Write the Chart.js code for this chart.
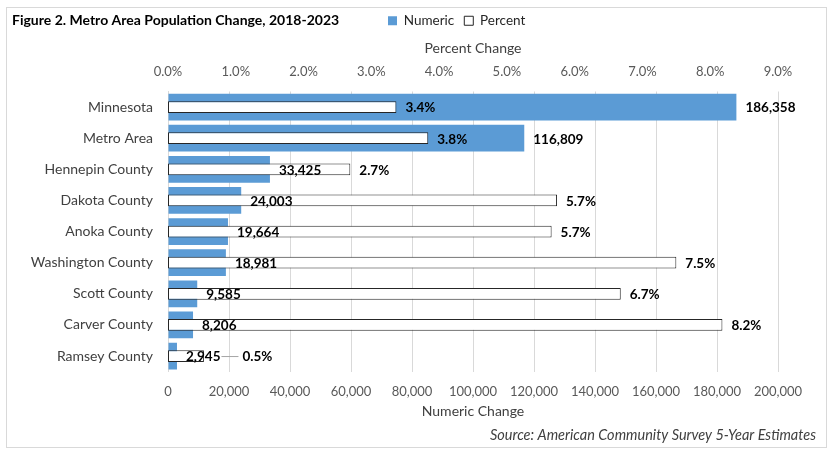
<!DOCTYPE html>
<html>
<head>
<meta charset="utf-8">
<title>Metro Area Population Change, 2018-2023</title>
<script src="https://cdn.jsdelivr.net/npm/chart.js@4.4.0/dist/chart.umd.min.js"></script>
<style>
  html, body { margin: 0; padding: 0; background: #fff; }
  #frame { position: absolute; left: 6px; top: 7px; width: 819px; height: 439px; border: 1px solid #d9d9d9; }
  canvas { display: block; }
</style>
</head>
<body>
<div id="frame"><canvas id="chart" width="819" height="439"></canvas></div>
<script>
const figureTitle = 'Figure 2. Metro Area Population Change, 2018-2023';
const sourceNote = 'Source: American Community Survey 5-Year Estimates';

const areas = ['Minnesota', 'Metro Area', 'Hennepin County', 'Dakota County', 'Anoka County',
  'Washington County', 'Scott County', 'Carver County', 'Ramsey County'];
const numericChange = [186358, 116809, 33425, 24003, 19664, 18981, 9585, 8206, 2945];
const percentChange = [3.37, 3.84, 2.69, 5.74, 5.66, 7.50, 6.68, 8.18, 0.53];

const numericTicks = { min: 0, max: 200000, step: 20000 };
const percentTicks = { min: 0, max: 9, step: 1 };

const FONT = 'Lato, "Open Sans", sans-serif';

// figure title sits on the legend row, legend moved next to it
const headerPlugin = {
  id: 'header',
  afterLayout(chart) {
    const lg = chart.legend;
    const dx = 371 - lg.left;
    const dy = -4;
    lg.left += dx; lg.right += dx;
    lg.top += dy; lg.bottom += dy;
  },
  afterDraw(chart) {
    const ctx = chart.ctx;
    ctx.save();
    ctx.font = 'bold 14px ' + FONT;
    ctx.fillStyle = '#000';
    ctx.textAlign = 'left';
    ctx.textBaseline = 'middle';
    ctx.fillText(figureTitle, 5, 12.5);
    ctx.restore();
  }
};

// value labels, percent label pushed aside with a leader when it hits the numeric one
const valueLabels = {
  id: 'valueLabels',
  afterDatasetsDraw(chart) {
    const ctx = chart.ctx;
    const numMeta = chart.getDatasetMeta(0);
    const pctMeta = chart.getDatasetMeta(1);
    ctx.save();
    ctx.font = 'bold 13.5px ' + FONT;
    ctx.fillStyle = '#000';
    ctx.textAlign = 'left';
    ctx.textBaseline = 'middle';
    for (let i = 0; i < areas.length; i++) {
      const nb = numMeta.data[i];
      const pb = pctMeta.data[i];
      const nText = numericChange[i].toLocaleString('en-US');
      const pText = percentChange[i].toFixed(1) + '%';
      const nx = nb.x + 9;
      const nEnd = nx + ctx.measureText(nText).width;
      let px = pb.x + 9;
      const pEnd = px + ctx.measureText(pText).width;
      if (px < nEnd && pEnd > nx) {
        const lx = nEnd + 22;
        ctx.strokeStyle = '#a6a6a6';
        ctx.lineWidth = 1;
        ctx.beginPath();
        ctx.moveTo(nEnd + 1, pb.y + 0.5);
        ctx.lineTo(lx - 4, pb.y + 0.5);
        ctx.stroke();
        px = lx;
      }
      ctx.fillText(nText, nx, nb.y + 1);
      ctx.fillText(pText, px, pb.y + 1);
    }
    ctx.restore();
  }
};

new Chart(document.getElementById('chart'), {
  type: 'bar',
  data: {
    labels: areas,
    datasets: [{
      label: 'Numeric',
      data: numericChange,
      xAxisID: 'x',
      backgroundColor: '#5b9bd5',
      borderWidth: 0,
      grouped: false,
      barPercentage: 0.86,
      categoryPercentage: 1,
      order: 1
    }, {
      label: 'Percent',
      data: percentChange,
      xAxisID: 'x2',
      backgroundColor: '#ffffff',
      borderColor: '#262626',
      borderWidth: 1,
      borderSkipped: false,
      grouped: false,
      barPercentage: 0.38,
      categoryPercentage: 1,
      order: 0
    }]
  },
  options: {
    indexAxis: 'y',
    responsive: false,
    animation: false,
    layout: { padding: { top: 0, right: 10, bottom: 0, left: 0 } },
    plugins: {
      title: { display: false },
      subtitle: {
        display: true,
        text: sourceNote,
        position: 'bottom',
        align: 'end',
        color: '#404040',
        font: { family: FONT, size: 14.5, style: 'italic' },
        padding: { top: 8, bottom: 3 }
      },
      legend: {
        display: true,
        position: 'top',
        align: 'start',
        labels: {
          boxWidth: 9,
          boxHeight: 9,
          padding: 10,
          color: '#262626',
          font: { family: FONT, size: 13.5 },
          sort: (a, b) => a.datasetIndex - b.datasetIndex
        }
      },
      tooltip: { enabled: false }
    },
    scales: {
      x: {
        type: 'linear',
        position: 'bottom',
        min: numericTicks.min,
        max: numericTicks.max,
        ticks: {
          stepSize: numericTicks.step,
          color: '#595959',
          font: { family: FONT, size: 13 },
          padding: 12,
          callback: v => v.toLocaleString('en-US')
        },
        grid: { color: '#d9d9d9', drawTicks: false },
        border: { display: false },
        title: {
          display: true,
          text: 'Numeric Change',
          color: '#404040',
          font: { family: FONT, size: 14, lineHeight: 1 },
          padding: 0
        },
        afterFit: s => { s.height = 47; s.paddingRight = 48; }
      },
      x2: {
        type: 'linear',
        position: 'top',
        min: percentTicks.min,
        max: percentTicks.max,
        ticks: {
          stepSize: percentTicks.step,
          color: '#595959',
          font: { family: FONT, size: 13 },
          padding: 12,
          callback: v => v.toFixed(1) + '%'
        },
        grid: { display: false, drawTicks: false },
        border: { display: false },
        title: {
          display: true,
          text: 'Percent Change',
          color: '#404040',
          font: { family: FONT, size: 14, lineHeight: 1 },
          padding: 0
        },
        afterFit: s => { s.height = 50; }
      },
      y: {
        type: 'category',
        ticks: {
          color: '#404040',
          font: { family: FONT, size: 14 },
          padding: 15
        },
        grid: { display: false, drawTicks: false },
        border: { display: true, color: '#d9d9d9' },
        afterFit: s => { s.width = 161; }
      }
    }
  },
  plugins: [headerPlugin, valueLabels]
});
</script>
</body>
</html>
